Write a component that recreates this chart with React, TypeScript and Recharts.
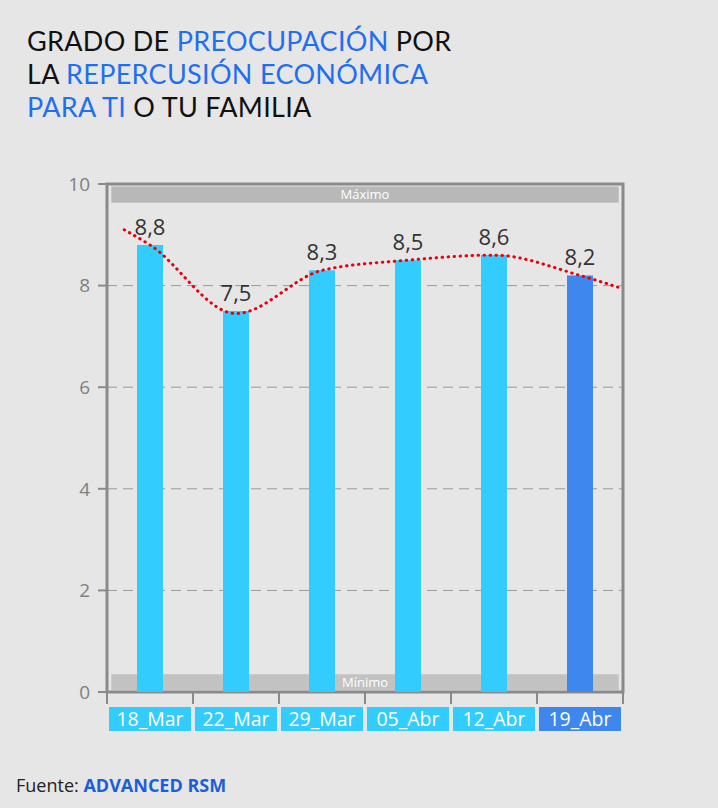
import { ComposedChart, Bar, Line, XAxis, YAxis, CartesianGrid, ReferenceArea, LabelList, Cell } from "recharts";

const fechas = ["18_Mar", "22_Mar", "29_Mar", "05_Abr", "12_Abr", "19_Abr"];
const valores = [8.8, 7.5, 8.3, 8.5, 8.6, 8.2];
const colores = ["#33ccff", "#33ccff", "#33ccff", "#33ccff", "#33ccff", "#3d87ee"];
// tendencia punteada (posición en categorías, valor)
const tendenciaX = [0.2, 0.5, 1.5, 2.5, 3.5, 4.5, 5.5, 5.94];
const tendenciaY = [9.1, 8.8, 7.45, 8.3, 8.5, 8.6, 8.2, 7.97];
const yTicks = [0, 2, 4, 6, 8, 10];

const data = fechas.map((f, i) => ({ fecha: f, valor: valores[i], color: colores[i] }));
const tendencia = tendenciaX.map((x, i) => ({ x, y: tendenciaY[i] }));

const FONT = "'Open Sans', 'Noto Sans', sans-serif";
const BLUE = "#1f6ff0";

function FechaTick(props: any) {
  const { x, y, payload, index } = props;
  const half = 43;
  const color = colores[index] || colores[0];
  return (
    <g>
      <line x1={x - half} x2={x - half} y1={y + 1} y2={y + 12} stroke="#8a8a8a" strokeWidth={2} />
      {index === fechas.length - 1 && (
        <line x1={x + half} x2={x + half} y1={y + 1} y2={y + 12} stroke="#8a8a8a" strokeWidth={2} />
      )}
      <rect x={x - 41} y={y + 15} width={82} height={24} fill={color} />
      <text x={x} y={y + 34} textAnchor="middle" fill="#fff" fontSize={19.5} fontFamily={FONT}>
        {payload.value}
      </text>
    </g>
  );
}

const lineaTitulo = { height: 33, lineHeight: "33px", whiteSpace: "nowrap" as const };

export default function App() {
  return (
    <div style={{ position: "absolute", left: 0, top: 0, width: 718, height: 808, background: "#e6e6e6", fontFamily: FONT }}>
      <div
        style={{
          position: "absolute",
          left: 27,
          top: 24,
          fontSize: 27,
          letterSpacing: 0.3,
          fontFamily: "Lato, 'Open Sans', sans-serif",
          color: "#111",
        }}
      >
        <div style={lineaTitulo}>
          GRADO DE <span style={{ color: BLUE }}>PREOCUPACIÓN</span> POR
        </div>
        <div style={lineaTitulo}>
          LA <span style={{ color: BLUE }}>REPERCUSIÓN ECONÓMICA</span>
        </div>
        <div style={lineaTitulo}>
          <span style={{ color: BLUE }}>PARA TI</span> O TU FAMILIA
        </div>
      </div>
      <ComposedChart
        width={718}
        height={808}
        data={data}
        margin={{ top: 184, right: 95, bottom: 86, left: 47 }}
        style={{ position: "absolute", left: 0, top: 0 }}
      >
        <CartesianGrid vertical={false} stroke="#999" strokeDasharray="10 6" />
        <XAxis
          xAxisId="cat"
          dataKey="fecha"
          height={30}
          axisLine={false}
          tickLine={false}
          tickSize={0}
          tickMargin={0}
          interval={0}
          tick={<FechaTick />}
        />
        <XAxis xAxisId="num" type="number" dataKey="x" domain={[0, 6]} hide allowDataOverflow />
        <YAxis
          width={60}
          domain={[0, 10]}
          ticks={yTicks}
          axisLine={false}
          tickSize={9}
          tickMargin={8}
          tickLine={{ stroke: "#8a8a8a", strokeWidth: 2 }}
          tick={{ fill: "#808080", fontSize: 19, fontFamily: FONT }}
        />
        <ReferenceArea xAxisId="num" x1={0} x2={6} y1={0} y2={10} fill="none" stroke="#8a8a8a" strokeWidth={3} />
        <ReferenceArea
          xAxisId="num"
          x1={0.05}
          x2={5.95}
          y1={9.63}
          y2={9.95}
          fill="#b8b8b8"
          fillOpacity={1}
          label={{ value: "Máximo", fill: "#fff", fontSize: 13, fontFamily: FONT, position: "center" }}
        />
        <Bar xAxisId="cat" dataKey="valor" barSize={26} isAnimationActive={false}>
          {data.map((d, i) => (
            <Cell key={i} fill={d.color} />
          ))}
          <LabelList
            dataKey="valor"
            position="top"
            offset={10}
            fill="#333"
            fontSize={22}
            fontFamily={FONT}
            formatter={(v: any) => String(v).replace(".", ",")}
          />
        </Bar>
        <ReferenceArea
          xAxisId="num"
          x1={0.05}
          x2={5.95}
          y1={0.04}
          y2={0.35}
          fill="#a1a1a1"
          fillOpacity={0.52}
          label={{ value: "Mínimo", fill: "#fff", fontSize: 13, fontFamily: FONT, position: "center" }}
        />
        <Line
          xAxisId="num"
          data={tendencia}
          dataKey="y"
          type="monotone"
          stroke="#e8000b"
          strokeWidth={3}
          strokeDasharray="0.5 5.5"
          strokeLinecap="round"
          dot={false}
          activeDot={false}
          isAnimationActive={false}
        />
      </ComposedChart>
      <div style={{ position: "absolute", left: 16, top: 773, fontSize: 18, color: "#222" }}>
        Fuente: <span style={{ color: "#1a5fd6", fontWeight: 700 }}>ADVANCED RSM</span>
      </div>
    </div>
  );
}
